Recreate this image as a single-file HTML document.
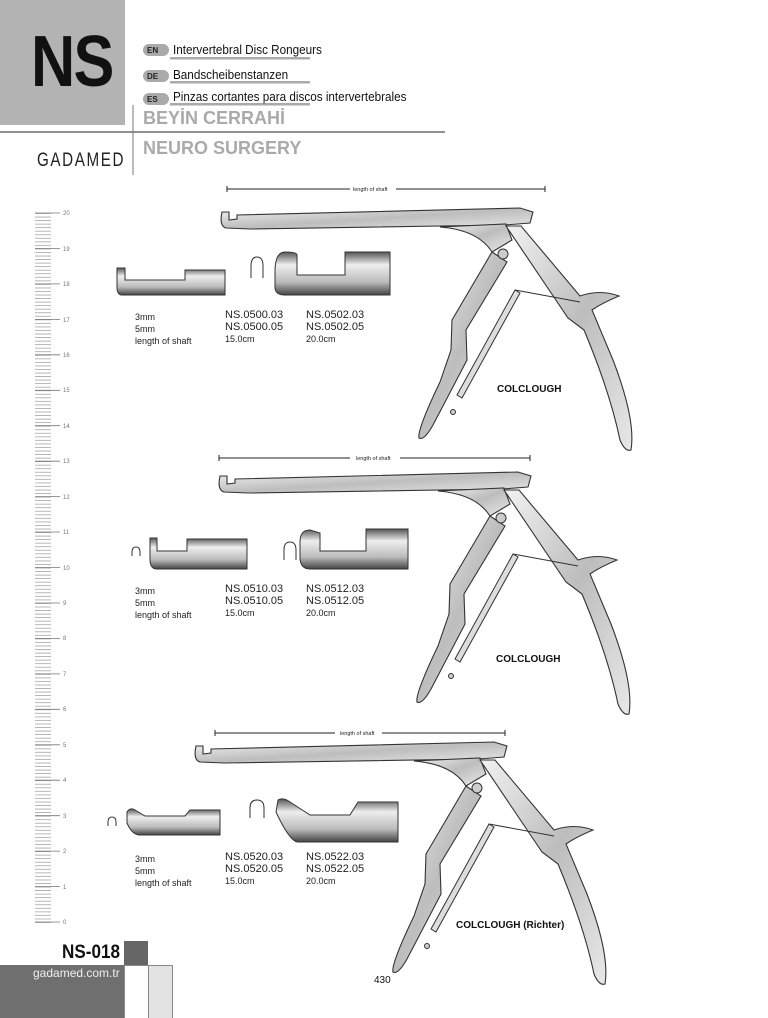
<!DOCTYPE html>
<html><head><meta charset="utf-8"><style>
body{margin:0;width:768px;height:1018px;background:#fff;position:relative;overflow:hidden;font-family:"Liberation Sans",sans-serif}
.a{position:absolute;white-space:nowrap}
</style></head><body>
<svg width="768" height="1018" style="position:absolute;left:0;top:0" xmlns="http://www.w3.org/2000/svg">
<defs>
<linearGradient id="m" x1="0" y1="0" x2="1" y2="1"><stop offset="0" stop-color="#f2f2f2"/><stop offset=".5" stop-color="#bdbdbd"/><stop offset="1" stop-color="#e8e8e8"/></linearGradient>
<linearGradient id="t" x1="0" y1="0" x2="0" y2="1"><stop offset="0" stop-color="#555"/><stop offset=".3" stop-color="#eee"/><stop offset=".7" stop-color="#bbb"/><stop offset="1" stop-color="#444"/></linearGradient>
<pattern id="mm" patternUnits="userSpaceOnUse" width="768" height="3.545" x="0" y="213"><line x1="35" y1="0.5" x2="51" y2="0.5" stroke="#999" stroke-width="0.7"/></pattern>
<g id="inst">
<path d="M222,212 L229,212 L229,220 L237,219 L237,215 L520,208 L533,212 L530,223 L505,225 L250,229 L226,228 Q219,226 222,212 Z" fill="url(#m)" stroke="#333" stroke-width="1.1"/>
<path d="M440,227 Q478,230 492,252 L512,240 L506,224 Z" fill="url(#m)" stroke="#333" stroke-width="1.1"/>
<path d="M492,252 L507,262 L466,330 L467,360 L433,425 Q424,441 419,438 Q417,430 440,382 L451,350 L452,320 Z" fill="url(#m)" stroke="#333" stroke-width="1.1"/>
<path d="M506,226 L521,226 L580,296 Q600,289 619,296 Q602,303 592,310 L613,360 Q636,420 631,450 Q625,452 620,440 Q610,392 584,330 L568,318 Z" fill="url(#m)" stroke="#333" stroke-width="1.1"/>
<path d="M515,290 L520,293 L462,398 L457,395 Z M515,290 L580,302" fill="#ddd" stroke="#333" stroke-width="1"/>
<circle cx="503" cy="254" r="5" fill="#ccc" stroke="#333"/>
<circle cx="453" cy="412" r="2.5" fill="#ccc" stroke="#333"/>
</g>
</defs>
<rect x="0" y="0" width="125" height="125" fill="#b3b3b3"/>
<line x1="0" y1="132" x2="445" y2="132" stroke="#222" stroke-width="1"/>
<line x1="133" y1="105" x2="133" y2="175" stroke="#777" stroke-width="1"/>
<g fill="#aaa"><rect x="170" y="57" width="140" height="2.5" /><rect x="170" y="81" width="140" height="2.5"/><rect x="170" y="103" width="140" height="2.5"/></g>
<g fill="#aaa"><rect x="143" y="44" width="26" height="12" rx="6"/><rect x="143" y="70" width="26" height="12" rx="6"/><rect x="143" y="93" width="26" height="12" rx="6"/></g>
<rect x="35" y="213" width="16" height="710" fill="url(#mm)"/>
<g stroke="#777" stroke-width="0.8">
<line x1="35" y1="213" x2="60" y2="213"/><line x1="35" y1="248.5" x2="60" y2="248.5"/><line x1="35" y1="283.9" x2="60" y2="283.9"/><line x1="35" y1="319.4" x2="60" y2="319.4"/><line x1="35" y1="354.8" x2="60" y2="354.8"/><line x1="35" y1="390.3" x2="60" y2="390.3"/><line x1="35" y1="425.7" x2="60" y2="425.7"/><line x1="35" y1="461.2" x2="60" y2="461.2"/><line x1="35" y1="496.6" x2="60" y2="496.6"/><line x1="35" y1="532" x2="60" y2="532"/><line x1="35" y1="567.5" x2="60" y2="567.5"/><line x1="35" y1="603" x2="60" y2="603"/><line x1="35" y1="638.4" x2="60" y2="638.4"/><line x1="35" y1="673.9" x2="60" y2="673.9"/><line x1="35" y1="709.3" x2="60" y2="709.3"/><line x1="35" y1="744.8" x2="60" y2="744.8"/><line x1="35" y1="780.2" x2="60" y2="780.2"/><line x1="35" y1="815.7" x2="60" y2="815.7"/><line x1="35" y1="851.1" x2="60" y2="851.1"/><line x1="35" y1="886.6" x2="60" y2="886.6"/><line x1="35" y1="922" x2="60" y2="922"/>
</g>
<g font-family="Liberation Sans" font-size="6" fill="#777">
<text x="63" y="215">20</text><text x="63" y="251">19</text><text x="63" y="286">18</text><text x="63" y="322">17</text><text x="63" y="357">16</text><text x="63" y="392">15</text><text x="63" y="428">14</text><text x="63" y="463">13</text><text x="63" y="499">12</text><text x="63" y="534">11</text><text x="63" y="570">10</text><text x="63" y="605">9</text><text x="63" y="640">8</text><text x="63" y="676">7</text><text x="63" y="711">6</text><text x="63" y="747">5</text><text x="63" y="782">4</text><text x="63" y="818">3</text><text x="63" y="853">2</text><text x="63" y="889">1</text><text x="63" y="924">0</text>
</g>
<g stroke="#222" stroke-width="1">
<path d="M227,186v6M227,189H350M396,189H545M545,186v6"/>
<path d="M219,455v6M219,458H350M400,458H530M530,455v6"/>
<path d="M215,730v6M215,733H335M382,733H505M505,730v6"/>
</g>
<g font-family="Liberation Sans" font-size="5.5" fill="#222">
<text x="353" y="191">length of shaft</text><text x="356" y="460">length of shaft</text><text x="340" y="735">length of shaft</text>
</g>
<use href="#inst"/>
<use href="#inst" transform="translate(-2,264)"/>
<use href="#inst" transform="translate(-26,534)"/>
<g fill="url(#t)" stroke="#333" stroke-width="1">
<path d="M117,268 h8 v12 h60 v-10 h40 v25 h-103 q-5,0 -5,-8 z"/>
<path d="M285,252 q-10,0 -10,20 v15 q0,8 10,8 h105 v-43 h-45 v23 h-48 v-20 q0,-3 -12,-3z"/>
<path d="M150,538 h7 v13 h30 v-12 h60 v30 h-90 q-7,0 -7,-10 z"/>
<path d="M310,530 q-10,0 -10,12 v15 q0,12 10,12 h98 v-40 h-42 v22 h-46 v-18 z"/>
<path d="M127,812 q3,-5 8,-2 l10,6 h40 l5,-6 h30 v25 h-80 q-8,0 -13,-12 z"/>
<path d="M278,800 q5,-3 12,2 l20,13 h40 l8,-13 h40 v40 h-100 q-8,0 -22,-30 z"/>
</g>
<g fill="none" stroke="#333" stroke-width="1">
<path d="M251,278v-12q0,-9 6,-9t6,9v12"/><path d="M132,556v-4q0,-5 4,-5t4,5v4"/><path d="M284,560v-10q0,-8 6,-8t6,8v10"/>
<path d="M108,826v-4q0,-5 4,-5t4,5v4"/><path d="M250,818v-10q0,-8 7,-8t7,8v10"/>
</g>
<rect x="0" y="941" width="124" height="24" fill="#fff"/>
<rect x="124" y="941" width="24" height="24" fill="#666"/>
<rect x="0" y="965" width="124" height="53" fill="#6f6f6f"/>
<rect x="124.5" y="965.5" width="24" height="53" fill="#fff" stroke="#888"/>
<rect x="148.5" y="965.5" width="24" height="53" fill="#e3e3e3" stroke="#888"/>
</svg>
<div class="a" style="left:31px;top:22px;font-size:72px;font-weight:bold;letter-spacing:-2px;color:#111;transform:scaleX(.85);transform-origin:left;line-height:80px">NS</div>
<div class="a" style="left:147px;top:46px;font-size:8px;font-weight:bold;color:#222">EN</div>
<div class="a" style="left:147px;top:72px;font-size:8px;font-weight:bold;color:#222">DE</div>
<div class="a" style="left:147px;top:95px;font-size:8px;font-weight:bold;color:#222">ES</div>
<div class="a" style="left:173px;top:42px;font-size:13px;color:#111;transform:scaleX(.9);transform-origin:left">Intervertebral Disc Rongeurs</div>
<div class="a" style="left:173px;top:67px;font-size:13px;color:#111;transform:scaleX(.9);transform-origin:left">Bandscheibenstanzen</div>
<div class="a" style="left:173px;top:89px;font-size:13px;color:#111;transform:scaleX(.9);transform-origin:left">Pinzas cortantes para discos intervertebrales</div>
<div class="a" style="left:143px;top:108px;font-size:18px;font-weight:bold;color:#aaa">BEYİN CERRAHİ</div>
<div class="a" style="left:143px;top:138px;font-size:18px;font-weight:bold;color:#aaa">NEURO SURGERY</div>
<div class="a" style="left:37px;top:150px;font-size:19px;color:#222;letter-spacing:2px;transform:scaleX(.8);transform-origin:left">GADAMED</div>
<div class="a" style="left:135px;top:311px;font-size:9px;line-height:12px;color:#222">3mm<br>5mm<br>length of shaft</div>
<div class="a" style="left:225px;top:309px;font-size:11px;line-height:12px;color:#222">NS.0500.03<br>NS.0500.05<br><span style="font-size:9px">15.0cm</span></div>
<div class="a" style="left:306px;top:309px;font-size:11px;line-height:12px;color:#222">NS.0502.03<br>NS.0502.05<br><span style="font-size:9px">20.0cm</span></div>
<div class="a" style="left:135px;top:585px;font-size:9px;line-height:12px;color:#222">3mm<br>5mm<br>length of shaft</div>
<div class="a" style="left:225px;top:583px;font-size:11px;line-height:12px;color:#222">NS.0510.03<br>NS.0510.05<br><span style="font-size:9px">15.0cm</span></div>
<div class="a" style="left:306px;top:583px;font-size:11px;line-height:12px;color:#222">NS.0512.03<br>NS.0512.05<br><span style="font-size:9px">20.0cm</span></div>
<div class="a" style="left:135px;top:853px;font-size:9px;line-height:12px;color:#222">3mm<br>5mm<br>length of shaft</div>
<div class="a" style="left:225px;top:851px;font-size:11px;line-height:12px;color:#222">NS.0520.03<br>NS.0520.05<br><span style="font-size:9px">15.0cm</span></div>
<div class="a" style="left:306px;top:851px;font-size:11px;line-height:12px;color:#222">NS.0522.03<br>NS.0522.05<br><span style="font-size:9px">20.0cm</span></div>
<div class="a" style="left:497px;top:384px;font-size:10px;font-weight:bold;color:#111">COLCLOUGH</div>
<div class="a" style="left:496px;top:654px;font-size:10px;font-weight:bold;color:#111">COLCLOUGH</div>
<div class="a" style="left:456px;top:920px;font-size:10px;font-weight:bold;color:#111">COLCLOUGH (Richter)</div>
<div class="a" style="left:62px;top:942px;font-size:19px;font-weight:bold;color:#111;transform:scaleX(.9);transform-origin:left">NS-018</div>
<div class="a" style="left:33px;top:966px;font-size:12px;color:#f0f0f0">gadamed.com.tr</div>
<div class="a" style="left:374px;top:975px;font-size:10px;color:#111">430</div>
</body></html>
